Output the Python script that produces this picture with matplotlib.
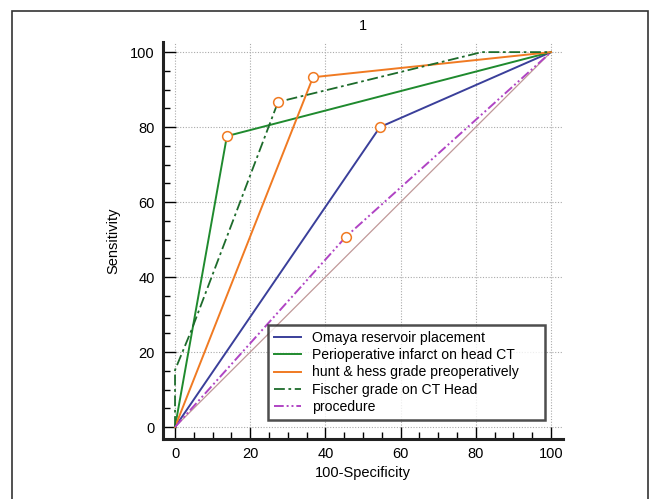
import numpy as np
import matplotlib.pyplot as plt
from matplotlib.patches import Rectangle
from matplotlib.ticker import MultipleLocator

plt.rcParams['font.family'] = ['Liberation Sans', 'DejaVu Sans']

# ROC curves (100-specificity, sensitivity)
omaya_x = [0, 54.5, 100]
omaya_y = [0, 80, 100]
infarct_x = [0, 13.8, 100]
infarct_y = [0, 77.6, 100]
hunt_x = [0, 36.7, 100]
hunt_y = [0, 93.3, 100]
fischer_x = [0, 0, 4.4, 27.4, 81.6, 100]
fischer_y = [0, 15.2, 25.9, 86.7, 100, 100]
proc_x = [0, 45.5, 100]
proc_y = [0, 50.8, 100]

# cutoff points (open circles)
cut_x = [54.5, 13.8, 36.7, 27.4, 45.5]
cut_y = [80, 77.6, 93.3, 86.7, 50.8]

labels = ['Omaya reservoir placement', 'Perioperative infarct on head CT',
          'hunt & hess grade preoperatively', 'Fischer grade on CT Head', 'procedure']

fig = plt.figure(figsize=(6.6, 4.99), dpi=100)
ax = fig.add_axes([163/660, 1-439/499, 400/660, 397/499])

# outer frame
fig.patches.append(Rectangle((12/660, -0.05), 636/660, 1-11/499+0.05,
                             transform=fig.transFigure, fill=False,
                             edgecolor='#333333', linewidth=1.2))

ax.plot([0, 100], [0, 100], color='#c09898', linewidth=0.9, zorder=2)
ax.plot(omaya_x, omaya_y, color='#3a3f9a', linewidth=1.4, label=labels[0], zorder=3)
ax.plot(infarct_x, infarct_y, color='#1f8a2e', linewidth=1.4, label=labels[1], zorder=3)
ax.plot(hunt_x, hunt_y, color='#f07a22', linewidth=1.4, label=labels[2], zorder=3)
ax.plot(fischer_x, fischer_y, color='#1d6b2b', linewidth=1.3, linestyle=(0, (6, 2, 1.5, 2)),
        label=labels[3], zorder=3)
ax.plot(proc_x, proc_y, color='#b044c4', linewidth=1.4, linestyle=(0, (5, 1.5, 1, 1.5, 1, 1.5)),
        label=labels[4], zorder=3)
ax.plot(cut_x, cut_y, linestyle='none', marker='o', markersize=7, markerfacecolor='white',
        markeredgecolor='#f07a22', markeredgewidth=1.1, zorder=4)

ax.set_xlim(-3.2, 103.2)
ax.set_ylim(-3.2, 102.7)
ax.xaxis.set_major_locator(MultipleLocator(20))
ax.xaxis.set_minor_locator(MultipleLocator(5))
ax.yaxis.set_major_locator(MultipleLocator(20))
ax.yaxis.set_minor_locator(MultipleLocator(5))
ax.tick_params(which='major', direction='in', length=9, width=1, labelsize=10.5, pad=6)
ax.tick_params(which='minor', direction='in', length=5, width=1)
ax.grid(True, which='major', linestyle=(0, (1, 1.5)), color='#aaaaaa', linewidth=0.8)

for s in ['top', 'right']:
    ax.spines[s].set_visible(False)
for s in ['left', 'bottom']:
    ax.spines[s].set_linewidth(2.2)
    ax.spines[s].set_color('#222222')

ax.set_xlabel('100-Specificity', fontsize=10.5, labelpad=3)
ax.set_ylabel('Sensitivity', fontsize=10.5, labelpad=7)
ax.set_title('1', fontsize=10.5, pad=9)

leg = ax.legend(loc='lower left', bbox_to_anchor=(0.2625, 0.048, 0.6925, 0.2), mode='expand',
                fontsize=10.1, frameon=True, fancybox=False, handlelength=1.9, borderpad=0.45,
                labelspacing=0.22, handletextpad=0.8, borderaxespad=0)
leg.get_frame().set_edgecolor('#222222')
leg.get_frame().set_linewidth(1.8)

fig.savefig('out.png', dpi=100)
